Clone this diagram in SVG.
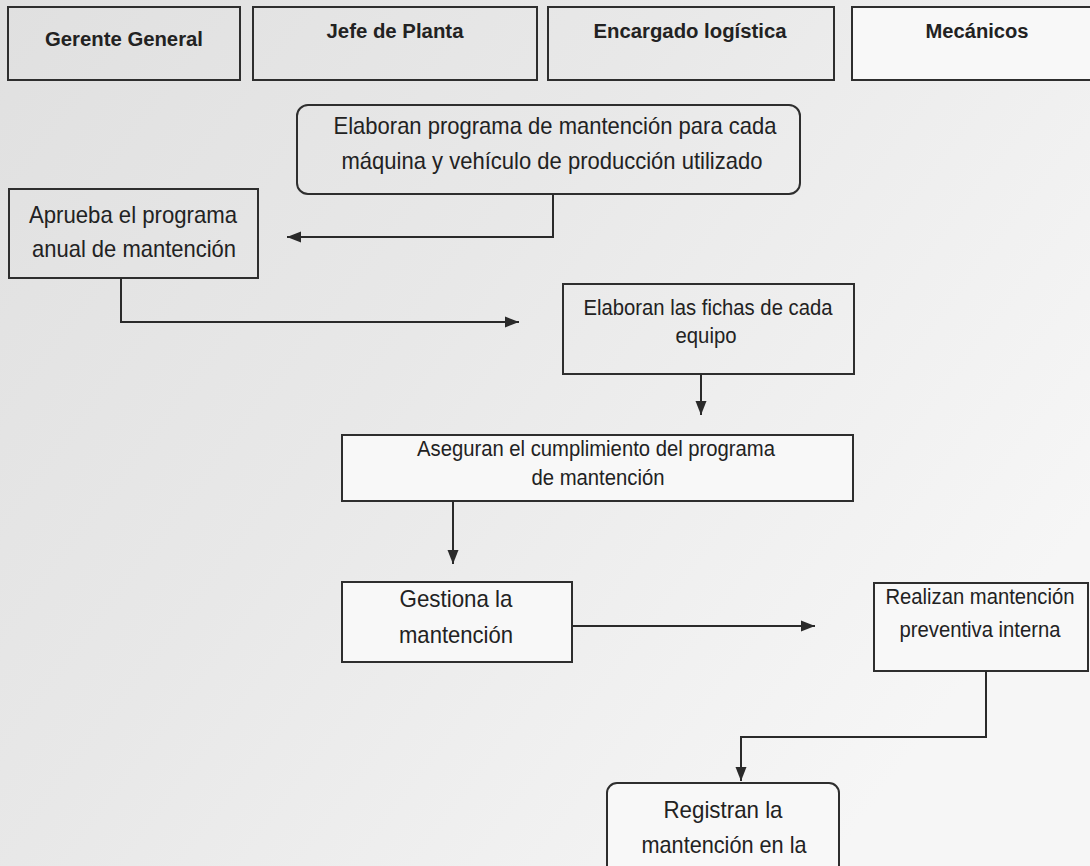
<svg xmlns="http://www.w3.org/2000/svg" width="1090" height="866" viewBox="0 0 1090 866">
  <defs>
    <linearGradient id="bg" x1="0" y1="0" x2="1" y2="0.6">
      <stop offset="0" stop-color="#e0e0e0"/>
      <stop offset="0.45" stop-color="#e8e8e8"/>
      <stop offset="1" stop-color="#f6f6f6"/>
    </linearGradient>
    <marker id="arrow" markerWidth="15" markerHeight="12" refX="14" refY="6" orient="auto" markerUnits="userSpaceOnUse">
      <path d="M0,0.5 L14,6 L0,11.5 z" fill="#2a2a2a"/>
    </marker>
  </defs>
  <style>
    .box { fill: none; stroke: #2e2e2e; stroke-width: 2; }
    .white { fill: #f8f8f8; }
    .head { font-family: "Liberation Sans", Arial, sans-serif; font-weight: bold; font-size: 20px; fill: #222; text-anchor: middle; }
    .t22 { font-family: "Liberation Sans", Arial, sans-serif; font-size: 24px; fill: #222; text-anchor: middle; }
    .t20 { font-family: "Liberation Sans", Arial, sans-serif; font-size: 21.5px; fill: #222; text-anchor: middle; }
    .conn { fill: none; stroke: #2a2a2a; stroke-width: 2; marker-end: url(#arrow); }
  </style>
  <rect x="0" y="0" width="1090" height="866" fill="url(#bg)"/>

  <g id="header-gerente">
    <rect class="box" x="8" y="7" width="232" height="73"/>
    <text class="head" x="124" y="46" textLength="158" lengthAdjust="spacingAndGlyphs">Gerente General</text>
  </g>
  <g id="header-jefe">
    <rect class="box" x="253" y="7" width="284" height="73"/>
    <text class="head" x="395" y="38" textLength="137" lengthAdjust="spacingAndGlyphs">Jefe de Planta</text>
  </g>
  <g id="header-logistica">
    <rect class="box" x="548" y="7" width="286" height="73"/>
    <text class="head" x="690" y="38" textLength="193" lengthAdjust="spacingAndGlyphs">Encargado logística</text>
  </g>
  <g id="header-mecanicos">
    <rect class="box white" x="852" y="7" width="240" height="73"/>
    <text class="head" x="977" y="38" textLength="103" lengthAdjust="spacingAndGlyphs">Mecánicos</text>
  </g>

  <g id="node-elaboran-programa">
    <rect class="box" x="297" y="105" width="503" height="89" rx="11" ry="11"/>
    <text class="t22" x="555" y="134" textLength="443" lengthAdjust="spacingAndGlyphs">Elaboran programa de mantención para cada</text>
    <text class="t22" x="552" y="169" textLength="421" lengthAdjust="spacingAndGlyphs">máquina y vehículo de producción utilizado</text>
  </g>
  <g id="node-aprueba">
    <rect class="box" x="9" y="189" width="249" height="89"/>
    <text class="t22" x="133" y="223" textLength="208" lengthAdjust="spacingAndGlyphs">Aprueba el programa</text>
    <text class="t22" x="134" y="257" textLength="204" lengthAdjust="spacingAndGlyphs">anual de mantención</text>
  </g>
  <g id="node-fichas">
    <rect class="box" x="563" y="284" width="291" height="90"/>
    <text class="t20" x="708" y="315" textLength="249" lengthAdjust="spacingAndGlyphs">Elaboran las fichas de cada</text>
    <text class="t20" x="706" y="343" textLength="61" lengthAdjust="spacingAndGlyphs">equipo</text>
  </g>
  <g id="node-aseguran">
    <rect class="box white" x="342" y="435" width="511" height="66"/>
    <text class="t20" x="596" y="456" textLength="358" lengthAdjust="spacingAndGlyphs">Aseguran el cumplimiento del programa</text>
    <text class="t20" x="598" y="485" textLength="133" lengthAdjust="spacingAndGlyphs">de mantención</text>
  </g>
  <g id="node-gestiona">
    <rect class="box white" x="342" y="582" width="230" height="80"/>
    <text class="t22" x="456" y="607" textLength="113" lengthAdjust="spacingAndGlyphs">Gestiona la</text>
    <text class="t22" x="456" y="643" textLength="114" lengthAdjust="spacingAndGlyphs">mantención</text>
  </g>
  <g id="node-realizan">
    <rect class="box white" x="874" y="583" width="214" height="88"/>
    <text class="t20" x="980" y="604" textLength="189" lengthAdjust="spacingAndGlyphs">Realizan mantención</text>
    <text class="t20" x="980" y="637" textLength="161" lengthAdjust="spacingAndGlyphs">preventiva interna</text>
  </g>
  <g id="node-registran">
    <rect class="box white" x="607" y="783" width="232" height="110" rx="10" ry="10"/>
    <text class="t22" x="723" y="818" textLength="119" lengthAdjust="spacingAndGlyphs">Registran la</text>
    <text class="t22" x="724" y="853" textLength="165" lengthAdjust="spacingAndGlyphs">mantención en la</text>
  </g>

  <g id="connectors">
    <path class="conn" d="M553,194 V237 H287"/>
    <path class="conn" d="M121,278 V322 H519"/>
    <path class="conn" d="M701,374 V415"/>
    <path class="conn" d="M453,501 V564"/>
    <path class="conn" d="M572,626 H815"/>
    <path class="conn" d="M986,671 V737 H741 V781"/>
  </g>
</svg>
